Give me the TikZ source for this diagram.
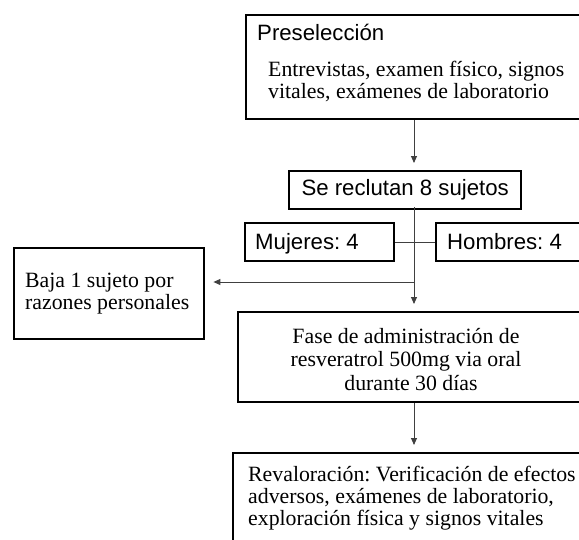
\documentclass[tikz,border=0pt]{standalone}
\usepackage{fontspec}
\setmainfont{Liberation Serif}
\newfontfamily\arialf{Liberation Sans}
\usetikzlibrary{arrows.meta}
\frenchspacing
\begin{document}
\begin{tikzpicture}[x=1pt,y=-1pt,
  boxst/.style={draw=black, line width=2.4pt, inner sep=0pt, anchor=north west},
  serift/.style={inner sep=0pt, font=\frenchspacing\fontsize{21.8}{22}\selectfont, align=left},
  sanst/.style={inner sep=0pt, font=\frenchspacing\arialf\fontsize{22.2}{22}\selectfont, align=left},
  conn/.style={draw=black!75, line width=0.9pt},
  arr/.style={conn, -{Triangle[length=7pt,width=6pt]}, shorten >=7pt}]
\useasboundingbox (0,0) rectangle (579,539);
\clip (0,0) rectangle (579,539);
\fill[white] (0,0) rectangle (579,539);
% boxes
\node[boxst, minimum width=380pt, minimum height=104pt] (pre) at (245,14) {};
\node[boxst, minimum width=232pt, minimum height=38pt] (rec) at (288,170) {};
\node[boxst, minimum width=149pt, minimum height=38pt] (muj) at (244,222) {};
\node[boxst, minimum width=190pt, minimum height=38pt] (hom) at (435,222) {};
\node[boxst, minimum width=190pt, minimum height=91pt] (baja) at (13,247) {};
\node[boxst, minimum width=390pt, minimum height=90pt] (fase) at (237,311) {};
\node[boxst, minimum width=400pt, minimum height=150pt] (rev) at (232,452) {};
% texts (base anchor = baseline of last line)
\node[sanst, anchor=base west] (t1) at (257,40) {Preselección};
\node[serift, anchor=base west] (t2) at (268,98) {Entrevistas, examen físico, signos\\vitales, exámenes de laboratorio};
\node[sanst, anchor=center] (t3) at (rec.center) {Se reclutan 8 sujetos};
\node[sanst, anchor=base west] (t4) at (255,249) {Mujeres: 4};
\node[sanst, anchor=base west] (t5) at (447,249) {Hombres: 4};
\node[serift, anchor=base west] (t6) at (25,309) {Baja 1 sujeto por\\razones personales};
\node[inner sep=0pt, font=\frenchspacing\fontsize{21.8}{23.5}\selectfont, align=center, anchor=base] (t7) at (406,390) {Fase de administración de\\resveratrol 500mg via oral\\ \hspace*{10pt}durante 30 días};
\node[serift, anchor=base west] (t8) at (248,525) {Revaloración: Verificación de efectos\\adversos, exámenes de laboratorio,\\exploración física y signos vitales};
% connectors
\coordinate (cx) at (414,0);
\coordinate (br) at (414,282);
\draw[arr] (pre.south -| cx) -- (rec.north -| cx);
\draw[conn] (muj.east) -- (hom.west);
\draw[arr] ([yshift=3pt]rec.south -| cx) -- (fase.north -| cx);
\draw[arr, shorten >=8pt] (br) -- (br -| baja.east);
\draw[arr] (fase.south -| cx) -- (rev.north -| cx);
\end{tikzpicture}
\end{document}
